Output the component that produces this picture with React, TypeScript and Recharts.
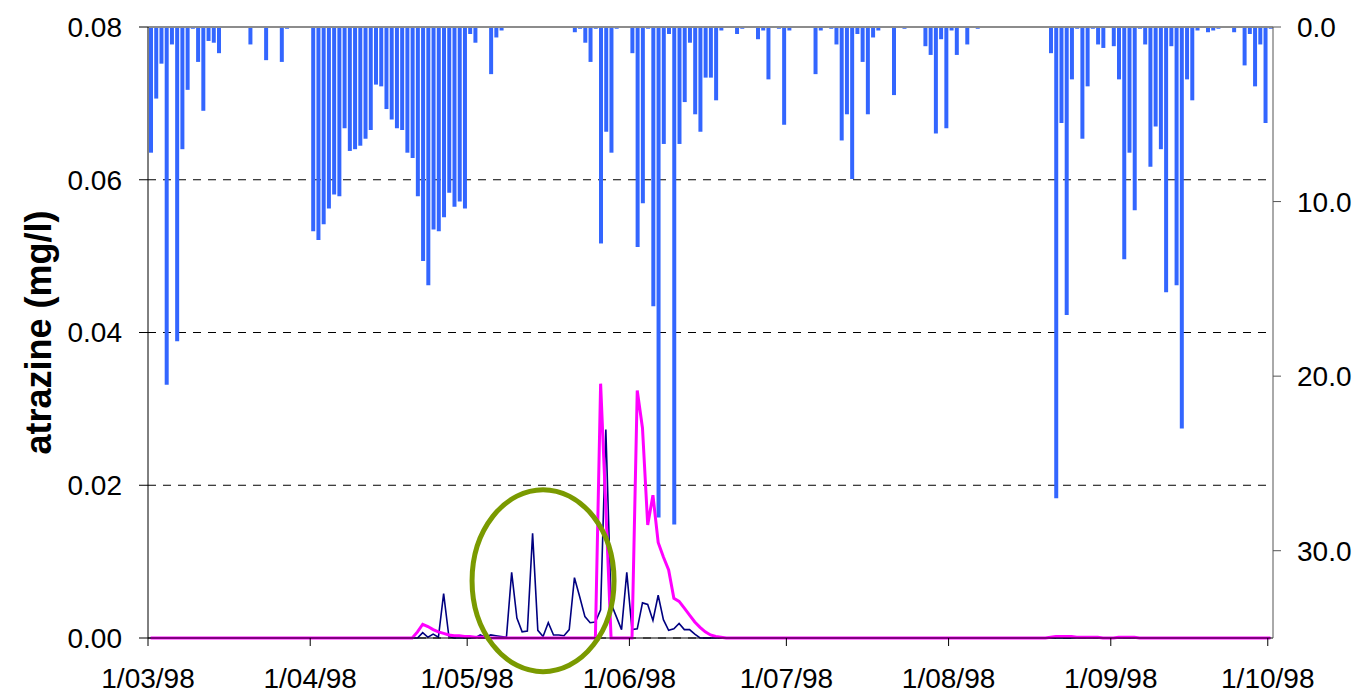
import {
  Bar,
  CartesianGrid,
  ComposedChart,
  Line,
  ReferenceDot,
  ReferenceLine,
  XAxis,
  YAxis,
} from "recharts";

// x axis: day index from 1 Mar 1998, one slot per day
const TICK_DAYS = [0, 31, 61, 92, 122, 153, 184, 214];
const TICK_LABELS = ["1/03/98", "1/04/98", "1/05/98", "1/06/98", "1/07/98", "1/08/98", "1/09/98", "1/10/98"];

// daily rainfall (mm), secondary axis, hanging from the top
const RAIN_MAR = [7.2, 4.1, 2.1, 20.5, 1.0, 18.0, 7.0, 3.6, 0.1, 2.0, 4.8, 0.8, 0.9, 1.5, 0, 0, 0, 0, 0, 1.0, 0, 0, 1.9, 0, 0, 2.0, 0.1, 0, 0, 0, 0];
const RAIN_APR = [11.7, 12.2, 11.3, 10.4, 9.6, 9.7, 5.8, 7.1, 7.0, 6.8, 6.4, 5.9, 3.3, 3.4, 4.7, 5.3, 5.8, 5.9, 7.2, 7.5, 9.7, 13.4, 14.8, 11.6, 11.7, 10.9, 9.5, 10.3, 10.0, 10.4];
const RAIN_MAY = [0.4, 0.9, 0, 0, 2.7, 0.6, 0.2, 0, 0, 0, 0, 0, 0, 0, 0, 0, 0, 0, 0, 0, 0.3, 0.1, 0.9, 2.0, 0.1, 12.4, 6.0, 7.2, 0.1, 0, 0];
const RAIN_JUN = [1.5, 12.6, 10.1, 0.1, 16.0, 28.1, 6.7, 0.4, 28.5, 6.7, 4.3, 0.9, 5.0, 6.0, 2.9, 2.9, 4.2, 0.2, 0, 0, 0.4, 0.1, 0, 0, 0.7, 0.2, 3.0, 0, 0.1, 5.6];
const RAIN_JUL = [0.2, 0, 0, 0, 0, 2.7, 0.2, 0, 0.1, 1.0, 6.5, 5.0, 8.7, 0.4, 2.0, 5.0, 0.6, 0.2, 0, 0, 3.9, 0, 0.1, 0, 0, 0, 1.1, 1.6, 6.1, 0.7, 5.8];
const RAIN_AUG = [0.2, 1.6, 0, 1.0, 0, 0.1, 0, 0, 0, 0, 0, 0, 0, 0, 0, 0, 0, 0, 0, 1.5, 27.0, 5.5, 16.5, 3.0, 0.1, 6.4, 3.4, 0.1, 1.0, 1.2, 0];
const RAIN_SEP = [1.1, 3.0, 13.3, 7.2, 10.5, 0.1, 1.0, 8.0, 5.7, 7.0, 15.2, 1.1, 14.8, 23.0, 3.0, 4.2, 0.2, 0, 0.3, 0.2, 0.1, 0, 0, 0.3, 0, 2.2, 0.4, 3.4, 1.0, 5.5];
const RAIN_OCT = [0.1];

// measured atrazine (mg/l)
const MEAS_MAR = [0, 0, 0, 0, 0, 0, 0, 0, 0, 0, 0, 0, 0, 0, 0, 0, 0, 0, 0, 0, 0, 0, 0, 0, 0, 0, 0, 0, 0, 0, 0];
const MEAS_APR = [0, 0, 0, 0, 0, 0, 0, 0, 0, 0, 0, 0, 0, 0, 0, 0, 0, 0, 0, 0, 0, 0.0007, 0.0001, 0.0005, 0.0001, 0.0058, 0.0002, 0, 0, 0];
const MEAS_MAY = [0, 0, 0.0004, 0.0001, 0.0004, 0.0003, 0.0002, 0.0001, 0.0086, 0.0026, 0.0008, 0.0009, 0.0137, 0.001, 0.0002, 0.002, 0.0004, 0.0004, 0.0003, 0.0011, 0.0079, 0.0054, 0.0028, 0.002, 0.0021, 0.0037, 0.0273, 0.0045, 0.0028, 0.0011, 0.0086];
const MEAS_JUN = [0.0011, 0.0012, 0.0046, 0.0044, 0.0023, 0.0056, 0.0024, 0.001, 0.0012, 0.0019, 0.0011, 0.0011, 0.0005, 0, 0, 0, 0, 0, 0, 0, 0, 0, 0, 0, 0, 0, 0, 0, 0, 0];
const MEAS_JUL = [0, 0, 0, 0, 0, 0, 0, 0, 0, 0, 0, 0, 0, 0, 0, 0, 0, 0, 0, 0, 0, 0, 0, 0, 0, 0, 0, 0, 0, 0, 0];
const MEAS_AUG = [0, 0, 0, 0, 0, 0, 0, 0, 0, 0, 0, 0, 0, 0, 0, 0, 0, 0, 0, 0, 0, 0, 0, 0, 0, 0, 0, 0, 0, 0, 0];
const MEAS_SEP = [0, 0, 0, 0, 0, 0, 0, 0, 0, 0, 0, 0, 0, 0, 0, 0, 0, 0, 0, 0, 0, 0, 0, 0, 0, 0, 0, 0, 0, 0];
const MEAS_OCT = [0];

// simulated atrazine (mg/l)
const SIM_MAR = [0, 0, 0, 0, 0, 0, 0, 0, 0, 0, 0, 0, 0, 0, 0, 0, 0, 0, 0, 0, 0, 0, 0, 0, 0, 0, 0, 0, 0, 0, 0];
const SIM_APR = [0, 0, 0, 0, 0, 0, 0, 0, 0, 0, 0, 0, 0, 0, 0, 0, 0, 0, 0, 0, 0.0008, 0.0018, 0.0015, 0.0011, 0.0008, 0.0006, 0.0004, 0.0003, 0.0003, 0.0002];
const SIM_MAY = [0.0002, 0.0001, 0.0001, 0.0001, 0, 0, 0, 0, 0, 0, 0, 0, 0, 0, 0, 0, 0, 0, 0, 0, 0, 0, 0, 0, 0, 0.0333, 0.017, 0, 0, 0, 0];
const SIM_JUN = [0, 0.0324, 0.0275, 0.0148, 0.0187, 0.0125, 0.0106, 0.0089, 0.0052, 0.0048, 0.0039, 0.003, 0.0021, 0.0014, 0.0008, 0.0004, 0.0002, 0.0001, 0, 0, 0, 0, 0, 0, 0, 0, 0, 0, 0, 0];
const SIM_JUL = [0, 0, 0, 0, 0, 0, 0, 0, 0, 0, 0, 0, 0, 0, 0, 0, 0, 0, 0, 0, 0, 0, 0, 0, 0, 0, 0, 0, 0, 0, 0];
const SIM_AUG = [0, 0, 0, 0, 0, 0, 0, 0, 0, 0, 0, 0, 0, 0, 0, 0, 0, 0, 0, 0.0001, 0.0002, 0.0002, 0.0002, 0.0002, 0.0001, 0.0001, 0.0001, 0.0001, 0.0001, 0, 0];
const SIM_SEP = [0, 0.0001, 0.0001, 0.0001, 0.0001, 0, 0, 0, 0, 0, 0, 0, 0, 0, 0, 0, 0, 0, 0, 0, 0, 0, 0, 0, 0, 0, 0, 0, 0, 0, 0];
const SIM_OCT = [0];

// the hand-drawn ring around the May peaks (day index, mg/l)
const RING_DAY = 75.5;
const RING_VALUE = 0.0075;

const RAIN = [...RAIN_MAR, ...RAIN_APR, ...RAIN_MAY, ...RAIN_JUN, ...RAIN_JUL, ...RAIN_AUG, ...RAIN_SEP, ...RAIN_OCT];
const MEAS = [...MEAS_MAR, ...MEAS_APR, ...MEAS_MAY, ...MEAS_JUN, ...MEAS_JUL, ...MEAS_AUG, ...MEAS_SEP, ...MEAS_OCT];
const SIM = [...SIM_MAR, ...SIM_APR, ...SIM_MAY, ...SIM_JUN, ...SIM_JUL, ...SIM_AUG, ...SIM_SEP, ...SIM_OCT];

const data = RAIN.map((rain, d) => ({
  x: d + 0.5,
  rain,
  meas: MEAS[d],
  sim: SIM[d],
}));

const TICK_STYLE = { fontSize: 28, fill: "#000" };

export default function App() {
  return (
    <div
      style={{
        position: "absolute",
        left: 0,
        top: 0,
        background: "#fff",
        fontFamily: '"Liberation Sans", Arial, sans-serif',
      }}
    >
      <ComposedChart
        width={1361}
        height={696}
        data={data}
        margin={{ top: 27, right: 0, bottom: 0, left: 0 }}
      >
        <CartesianGrid
          yAxisId="left"
          horizontal
          vertical={false}
          stroke="#000"
          strokeDasharray="8 7"
        />
        <XAxis
          dataKey="x"
          type="number"
          domain={[0, 215]}
          ticks={TICK_DAYS}
          tickFormatter={(v: number) => TICK_LABELS[TICK_DAYS.indexOf(v)]}
          tick={TICK_STYLE}
          tickSize={8}
          tickMargin={22}
          height={58}
          stroke="#000"
          interval={0}
        />
        <YAxis
          yAxisId="left"
          domain={[0, 0.08]}
          ticks={[0, 0.02, 0.04, 0.06, 0.08]}
          tickFormatter={(v: number) => v.toFixed(2)}
          tick={TICK_STYLE}
          tickSize={9}
          tickMargin={17}
          width={148}
          stroke="#000"
          interval={0}
          label={{
            value: "atrazine (mg/l)",
            angle: -90,
            position: "insideLeft",
            offset: 38,
            style: { textAnchor: "middle", fontWeight: 700, fontSize: 36, fill: "#000" },
          }}
        />
        <YAxis
          yAxisId="right"
          orientation="right"
          reversed
          domain={[0, 35]}
          ticks={[0, 10, 20, 30]}
          tickFormatter={(v: number) => v.toFixed(1)}
          tick={TICK_STYLE}
          tickSize={8}
          tickMargin={16}
          width={88}
          stroke="#555"
          interval={0}
        />
        <ReferenceLine yAxisId="left" y={0.08} stroke="#8c8c8c" strokeWidth={2} />
        <Bar
          yAxisId="right"
          dataKey="rain"
          fill="#3366ff"
          barSize={4}
          isAnimationActive={false}
        />
        <Line
          yAxisId="left"
          type="linear"
          dataKey="meas"
          stroke="#000080"
          strokeWidth={1.6}
          dot={false}
          activeDot={false}
          isAnimationActive={false}
        />
        <Line
          yAxisId="left"
          type="linear"
          dataKey="sim"
          stroke="#ff00ff"
          strokeWidth={3}
          dot={false}
          activeDot={false}
          isAnimationActive={false}
        />
        <ReferenceDot
          yAxisId="left"
          x={RING_DAY}
          y={RING_VALUE}
          shape={(p: { cx: number; cy: number }) => (
            <ellipse cx={p.cx} cy={p.cy} rx={71} ry={91} fill="none" stroke="#7a9a00" strokeWidth={5} />
          )}
        />
      </ComposedChart>
    </div>
  );
}
